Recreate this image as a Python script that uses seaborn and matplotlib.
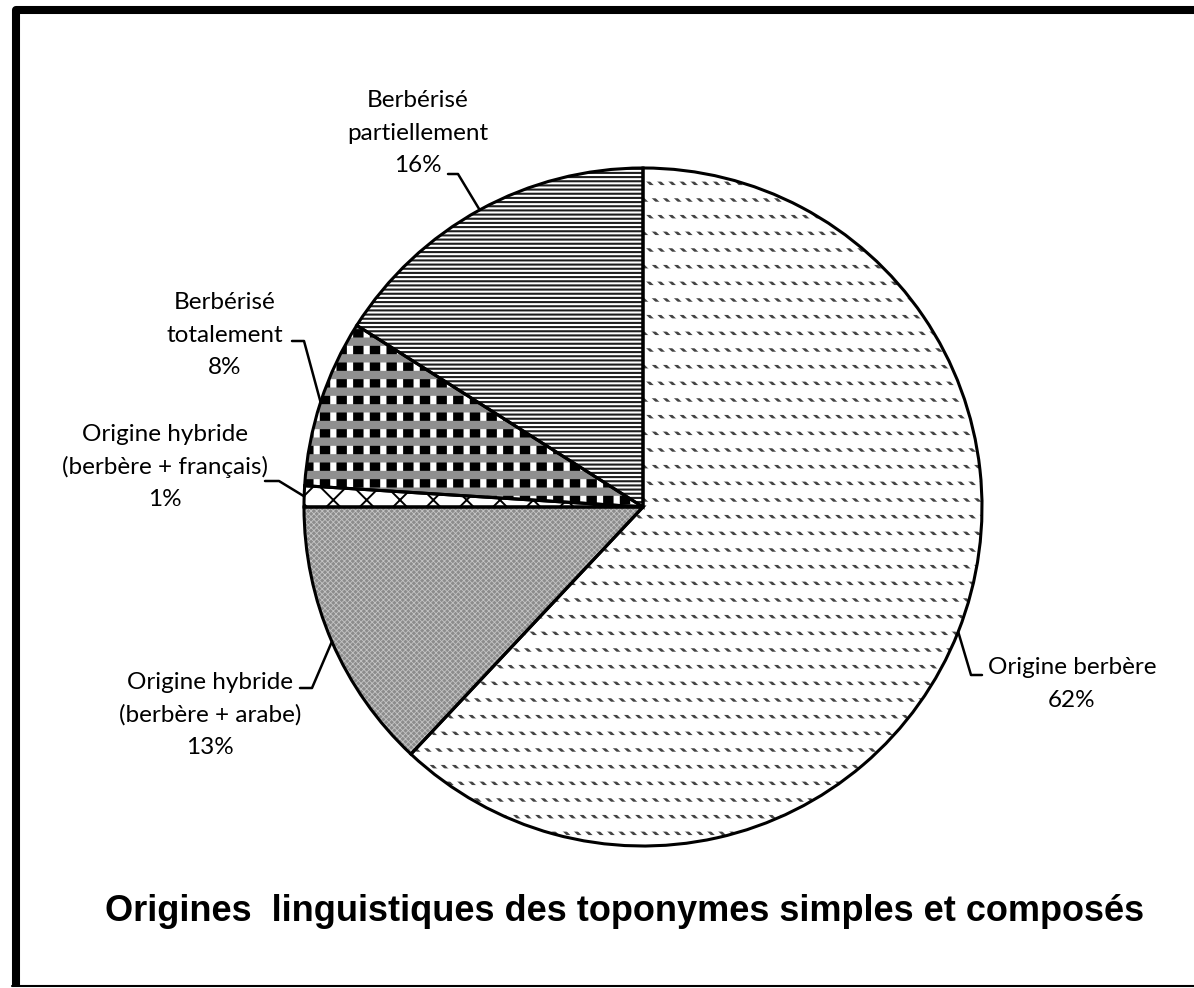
"""
Origines linguistiques des toponymes simples et composés - pie chart
"""

import numpy as np
import matplotlib
matplotlib.use("Agg")
import matplotlib.pyplot as plt
from matplotlib.lines import Line2D
import seaborn as sns

# ── Data ──────────────────────────────────────────────────────────────────────
CATEGORIES = [
    "Origine berbère",
    "Origine hybride\n(berbère + arabe)",
    "Origine hybride\n(berbère + français)",
    "Berbérisé\ntotalement",
    "Berbérisé\npartiellement",
]
SHARES = [62, 13, 1, 8, 16]
TITLE = "Origines  linguistiques des toponymes simples et composés"

# ── Layout (pixels, from top-left of the 1194x988 canvas) ────────────────────
W, H = 1194, 988
CX, CY, R = 643, 507, 339
LABEL_POS = [(1072, 684), (210, 715), (165, 467), (225, 335), (418, 133)]
LEADER_ELBOW = [(971, 675), (312, 688), (279, 481), (304, 341), (458, 174)]
LEADER_END = [(982, 675), (300, 688), (265, 481), (292, 341), (448, 174)]

sns.set_theme(style="white")
plt.rcParams["font.family"] = ["Lato", "DejaVu Sans"]


def to_data(px, py):
    return (px - CX) / R, (CY - py) / R


def hatch_layer(ax, faces, edges, hatches, widths, fill=True):
    """One pie pass; the hatch colour follows the edge colour."""
    wedges, _ = ax.pie(SHARES, startangle=90, counterclock=False,
                       radius=1, wedgeprops=dict(linewidth=0))
    for w, face, edge, hatch, lw in zip(wedges, faces, edges, hatches, widths):
        w.set_fill(fill and face != "none")
        w.set_facecolor(face)
        w.set_edgecolor(edge)
        w.set_linewidth(0)
        if hatch:
            w.set_hatch(hatch)
            if hasattr(w, "set_hatch_linewidth"):
                w.set_hatch_linewidth(lw)
    return wedges


fig = plt.figure(figsize=(W / 100, H / 100), dpi=100)
fig.patch.set_facecolor("white")
ax = fig.add_axes([(CX - R) / W, (H - CY - R) / H, 2 * R / W, 2 * R / H])

# base fills + main hatches
hatch_layer(ax,
            faces=["white", "#8c8c8c", "white", "white", "white"],
            edges=["#444444", "#c4c4c4", "black", "black", "#1e1e1e"],
            hatches=["\\\\\\", "xxxxxx", "x", "|", "----"],
            widths=[2.0, 0.6, 1.4, 7.5, 1.5],)
# overlays: cut the diagonals into dashes, grey bands across the checks
hatch_layer(ax,
            faces=["none", "none", "none", "none", "none"],
            edges=["white", "none", "none", "#8f8f8f", "none"],
            hatches=["-", None, None, "-", None],
            widths=[9.5, 1, 1, 6.0, 1],
            fill=False)

# outlines
wedges, _ = ax.pie(SHARES, startangle=90, counterclock=False, radius=1,
                   wedgeprops=dict(fill=False, edgecolor="black", linewidth=2.2))

ax.set_xlim(-1, 1)
ax.set_ylim(-1, 1)
ax.set_aspect("equal")
ax.axis("off")

# labels with leader lines
for w, name, share, pos, elbow, end in zip(wedges, CATEGORIES, SHARES,
                                            LABEL_POS, LEADER_ELBOW, LEADER_END):
    mid = np.deg2rad((w.theta1 + w.theta2) / 2)
    ex, ey = np.cos(mid), np.sin(mid)
    bx, by = to_data(*elbow)
    tx, ty = to_data(*end)
    ax.add_line(Line2D([ex, bx, tx], [ey, by, ty], color="black",
                       linewidth=1.8, clip_on=False))
    fig.text(pos[0] / W, 1 - pos[1] / H, f"{name}\n{share}%",
             ha="center", va="center", fontsize=17.5, linespacing=1.65,
             color="black")

fig.text(625 / W, 1 - 911 / H, TITLE, ha="center", va="center",
         fontsize=26, fontweight="bold",
         family=["Liberation Sans", "DejaVu Sans"], color="black")

# frame: heavy top/left, thin bottom
fig.add_artist(Line2D([15.5 / W, 15.5 / W, 1.0], [1 - 986 / H, 1 - 10 / H, 1 - 10 / H],
                      transform=fig.transFigure, color="black", linewidth=5.8,
                      solid_joinstyle="round", solid_capstyle="butt"))
fig.add_artist(Line2D([12 / W, 1.0], [1 - 986 / H, 1 - 986 / H],
                      transform=fig.transFigure, color="black", linewidth=1.5))

plt.savefig("out.png", dpi=100)
plt.close()
